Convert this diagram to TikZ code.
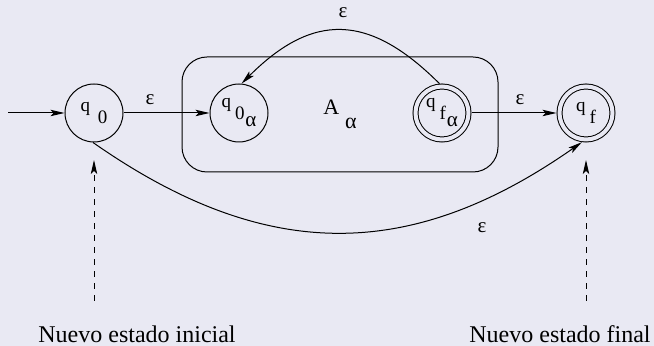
\documentclass[tikz,border=0pt]{standalone}
\usepackage{fontspec}
\setmainfont{Liberation Serif}
\usetikzlibrary{arrows.meta}
\definecolor{afPaper}{RGB}{233,233,243}
\definecolor{afInk}{HTML}{000000}
\tikzset{
  af diagram/.style={x=0.5pt, y=0.5pt, text=afInk, line width=0.5pt,
    font=\fontsize{9.5}{10}\selectfont},
  af state/.style={draw=afInk, circle, minimum size=29pt, inner sep=0pt},
  af final/.style={af state, minimum size=26.5pt, double=afPaper,
    double distance=2pt, outer sep=1.5pt},
  af block/.style={draw=afInk, rounded corners=12.5pt, minimum width=158pt,
    minimum height=57.5pt, inner sep=0pt, font=\fontsize{11}{12}\selectfont},
  af arrow/.style={-{Stealth[length=7pt,width=3.2pt,inset=1.5pt]}, draw=afInk},
  af hint/.style={af arrow, dashed},
  af label/.style={font=\fontsize{10.5}{12}\selectfont},
  af caption/.style={font=\fontsize{12}{14}\selectfont, anchor=base}
}
\newcommand{\afsub}[2]{#1\hspace{2pt}\raisebox{-6pt}{#2}}
\newcommand{\afalpha}{\hspace{0.5pt}\raisebox{-3.5pt}{\fontsize{10.5}{12}\selectfont α}}

\begin{document}
\begin{tikzpicture}[af diagram]
\path[fill=afPaper, use as bounding box] (0,0) rectangle (654,346);
\node[af block] (box) at (340,231.5) {A\hspace{3pt}\raisebox{-7pt}{α}};
\node[af state] (q0) at (94,233) {q\hspace{4pt}\raisebox{-6pt}{0}};
\node[af state] (q0a) at (239,233) {\afsub{q}{0\afalpha}};
\node[af final] (qfa) at (442,233) {\afsub{q}{f\afalpha}};
\node[af final] (qf) at (586,233) {\afsub{q}{f}};
\coordinate (start) at (8,233);
\draw[af arrow] (start) -- (q0);
\draw[af arrow] (q0) -- (q0a);
\draw[af arrow] (qfa) -- (qf);
\draw[af arrow] (qfa.95) to[out=135,in=45,looseness=1.3] (q0a.85);
\draw[af arrow] (q0.-92) to[out=-35,in=-145,looseness=1.1] (qf.-98);
\node[af label] (eps in) at (150,246) {ε};
\node[af label] (eps out) at (520,246) {ε};
\node[af label] (eps loop) at (343,333) {ε};
\node[af label] (eps skip) at (482,118) {ε};
\coordinate (ini foot) at (94,45);
\coordinate (ini tip) at (94,186);
\coordinate (fin foot) at (586,45);
\coordinate (fin tip) at (586,186);
\draw[af hint] (ini foot) -- (ini tip);
\draw[af hint] (fin foot) -- (fin tip);
\node[af caption] (cap ini) at (137,3) {Nuevo estado inicial};
\node[af caption] (cap fin) at (560,3) {Nuevo estado final};
\end{tikzpicture}
\end{document}
